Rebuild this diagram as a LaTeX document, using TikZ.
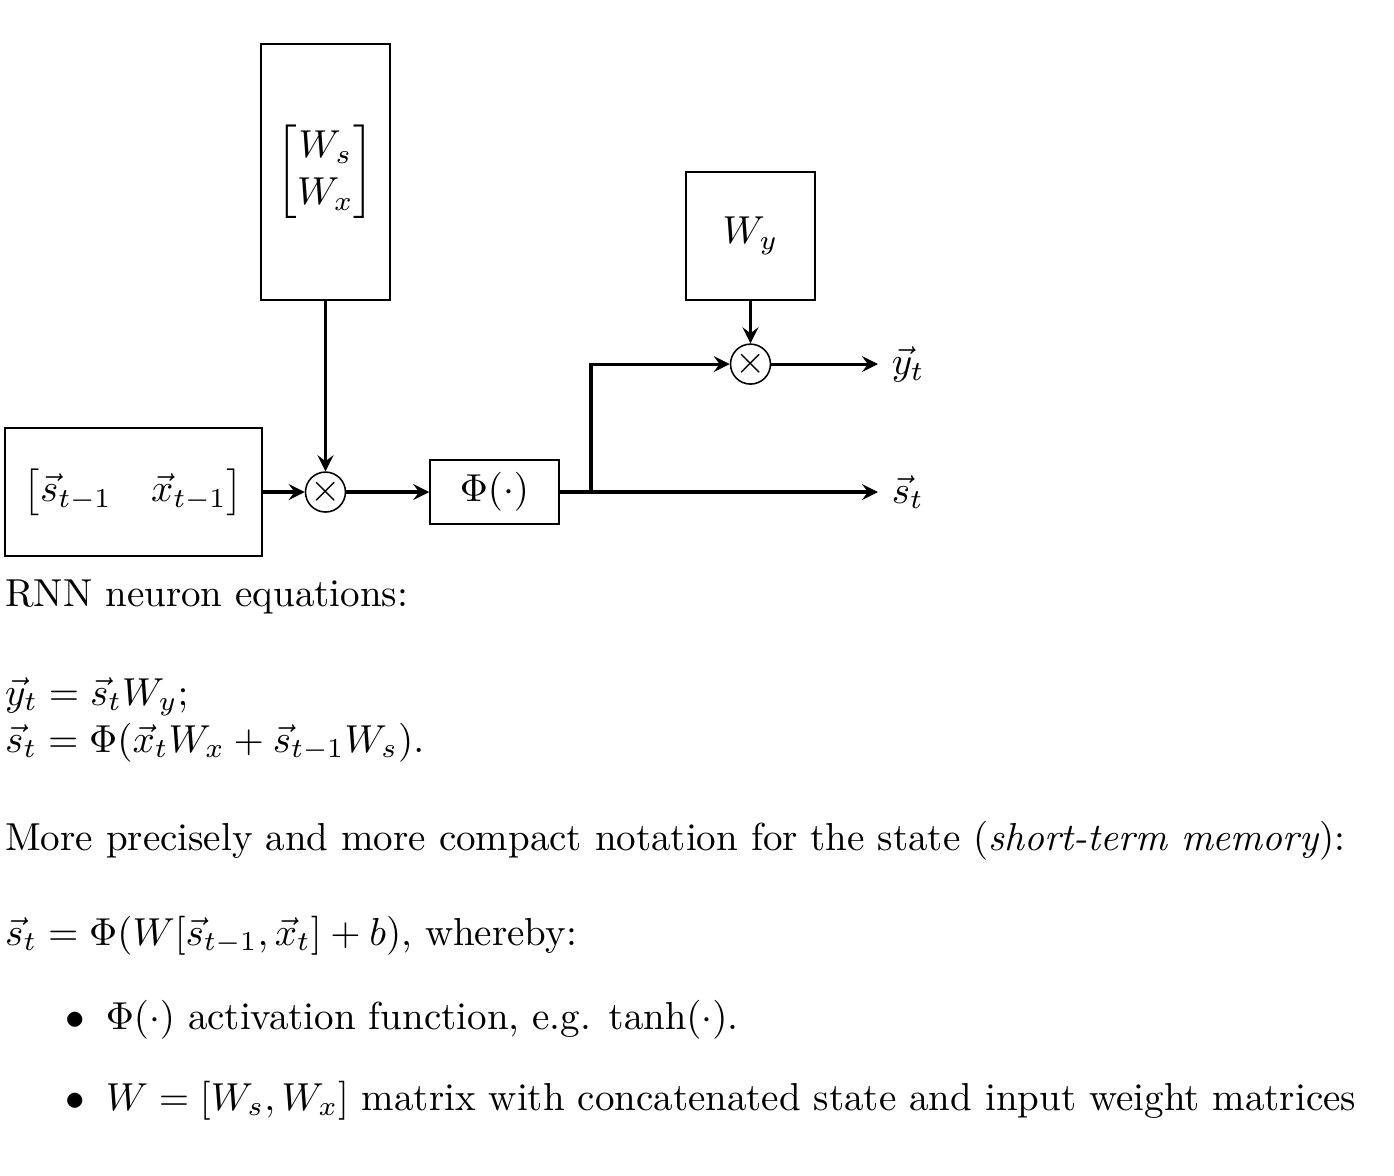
\documentclass[tikz,border=0pt]{standalone}
\usepackage{amsmath}
\usetikzlibrary{positioning}
\tikzset{M/.style={draw, minimum width=1.162cm, inner sep=0pt}}
\tikzset{X/.style={draw, circle, inner sep=0pt, minimum size=0.36cm}}
\tikzset{E/.style={draw, thick, -stealth}}
\tikzset{T/.style={anchor=base west, inner sep=0pt}}

\begin{document}
\begin{tikzpicture}[node distance=1.153cm and 1.153cm, on grid]
        \useasboundingbox (0,0) rectangle (12.562,-10.597);
        %% Input and weights
        \node[M, minimum width=2.316cm, minimum height=1.153cm] (inp) at (1.203,-4.434) {$\begin{bmatrix}\vec{s}_{t-1} & \vec{x}_{t-1}\end{bmatrix}$};
        \node[X, right=1.730 of inp] (mul1) {$\times$};
        \node[M, minimum height=2.307cm, above=2.884 of mul1] (wsx) {$\begin{bmatrix}W_s\\ W_x\end{bmatrix}$};
        \node[M, minimum height=0.577cm, right=1.523 of mul1] (phi) {$\Phi(\cdot)$};
        %% Output
        \node[X, above right=1.153 and 2.307 of phi] (mul2) {$\times$};
        \node[M, minimum height=1.153cm, above= of mul2] (wy) {$W_y$};
        \coordinate[right=1.149 of mul2] (yend);
        \coordinate[right=0.870 of phi] (br);
        \node[anchor=west] (yt) at (yend) {$\vec{y}_t$};
        \node[anchor=west] (st) at (yend |- phi) {$\vec{s}_t$};
        %% Edges
        \draw[E] (inp) -- (mul1);
        \draw[E] (wsx) -- (mul1);
        \draw[E] (mul1) -- (phi);
        \draw[E] (phi) -- (st);
        \draw[E] (br) |- (mul2);
        \draw[E] (wy) -- (mul2);
        \draw[E] (mul2) -- (yt);
        %% Text
        \node[T] (t1) at (0.040,-5.461) {RNN neuron equations:};
        \node[T] (t2) at (0.040,-6.353) {$\vec{y}_t = \vec{s}_t W_y;$};
        \node[T] (t3) at (0.040,-6.777) {$\vec{s}_t = \Phi(\vec{x}_t W_x + \vec{s}_{t-1} W_s).$};
        \node[T] (t4) at (0.040,-7.660) {More precisely and more compact notation for the state (\textit{short-term memory}):};
        \node[T] (t5) at (0.040,-8.516) {$\vec{s}_t = \Phi(W[\vec{s}_{t-1}, \vec{x}_t] + b)$, whereby:};
        \node[T] (t6) at (0.946,-9.273) {$\Phi(\cdot)$ activation function, e.g. $\tanh(\cdot)$.};
        \node[T] (t7) at (0.946,-10.003) {$W = [W_s, W_x]$ matrix with concatenated state and input weight matrices};
        \node[T, anchor=base east] (b1) at (0.770,-9.273) {$\bullet$};
        \node[T, anchor=base east] (b2) at (0.770,-10.003) {$\bullet$};
\end{tikzpicture}
\end{document}
